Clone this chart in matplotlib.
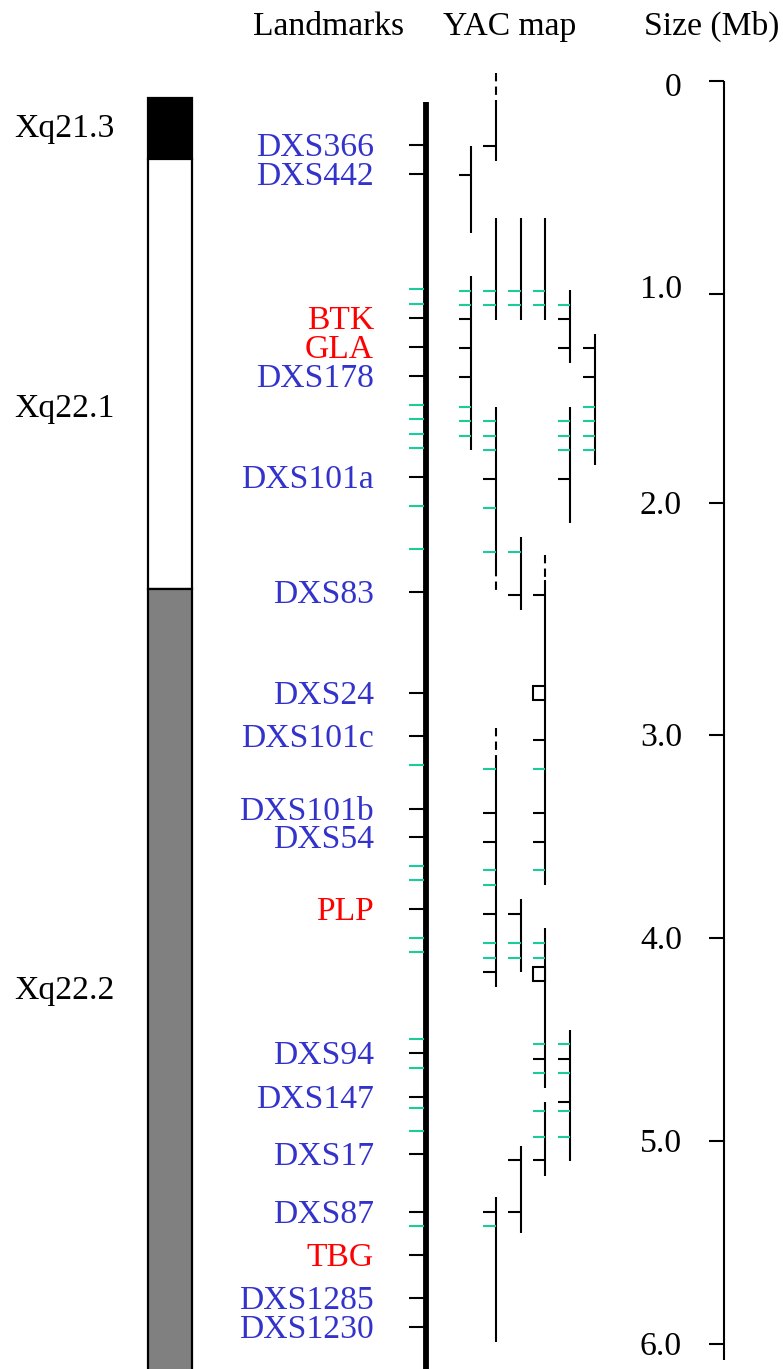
import matplotlib.pyplot as plt
from matplotlib.patches import Rectangle

# map positions (top of picture = 0, going down)
band_names = ["Xq21.3", "Xq22.1", "Xq22.2"]
band_stain = ["gpos100", "gneg", "gpos50"]
band_top = [98, 159, 589]
band_bottom = [159, 589, 1400]
band_label_pos = [126, 406, 988]

landmark_pos = [145, 174, 289, 304, 318, 347, 376, 405, 419, 434, 448, 477,
                506, 549, 592, 693, 736, 765, 809, 837, 866, 880, 909, 938,
                952, 1039, 1053, 1068, 1097, 1108, 1131, 1154, 1212, 1226,
                1255, 1298, 1327]
landmark_kind = ["k", "k", "g", "g", "k", "k", "k", "g", "g", "g", "g", "k",
                 "g", "g", "k", "k", "k", "g", "k", "k", "g", "g", "k", "g",
                 "g", "g", "k", "g", "k", "g", "g", "k", "k", "g",
                 "k", "k", "k"]
landmark_names = ["DXS366", "DXS442", "", "", "BTK", "GLA", "DXS178", "", "",
                  "", "", "DXS101a", "", "", "DXS83", "DXS24", "DXS101c", "",
                  "DXS101b", "DXS54", "", "", "PLP", "", "", "", "DXS94", "",
                  "DXS147", "", "", "DXS17", "DXS87", "", "TBG", "DXS1285",
                  "DXS1230"]
gene_names = ["BTK", "GLA", "PLP", "TBG"]

# YAC clones: column, top, bottom, dashed part (or None), ticks, boxes
yac_col = [2, 1, 2, 3, 4, 1, 5, 6, 2, 5, 3, 4, 2, 3, 4, 5, 4, 3, 2]
yac_top = [100, 146, 218, 218, 218, 276, 290, 334, 407, 407, 537, 580, 757,
           899, 928, 1030, 1102, 1146, 1197]
yac_bottom = [161, 233, 320, 320, 320, 450, 363, 465, 568, 523, 610, 885, 987,
              972, 1088, 1161, 1176, 1233, 1342]
yac_dashed = [(73, 100), None, None, None, None, None, None, None, (568, 595),
              None, None, (555, 580), (728, 757), None, None, None, None,
              None, None]
yac_ticks = [
    [(146, "k")],
    [(175, "k")],
    [(291, "g"), (305, "g")],
    [(291, "g"), (305, "g")],
    [(291, "g"), (305, "g")],
    [(291, "g"), (305, "g"), (319, "k"), (348, "k"), (377, "k"), (407, "g"),
     (421, "g"), (436, "g")],
    [(305, "g"), (319, "k"), (348, "k")],
    [(348, "k"), (377, "k"), (407, "g"), (421, "g"), (436, "g"), (450, "g")],
    [(421, "g"), (436, "g"), (450, "g"), (479, "k"), (508, "g"), (552, "g")],
    [(421, "g"), (436, "g"), (450, "g"), (479, "k")],
    [(552, "g"), (595, "k")],
    [(595, "k"), (740, "k"), (769, "g"), (813, "k"), (842, "k"), (870, "g")],
    [(769, "g"), (813, "k"), (842, "k"), (870, "g"), (885, "g"), (914, "k"),
     (943, "g"), (958, "g"), (972, "k")],
    [(914, "k"), (943, "g"), (958, "g")],
    [(943, "g"), (958, "g"), (1044, "g"), (1059, "k"), (1073, "g")],
    [(1044, "g"), (1059, "k"), (1073, "g"), (1102, "k"), (1111, "g"),
     (1137, "g")],
    [(1111, "g"), (1137, "g"), (1160, "k")],
    [(1160, "k"), (1212, "k")],
    [(1212, "k"), (1226, "g")],
]
yac_boxes = [[], [], [], [], [], [], [], [], [], [], [], [693], [], [], [974],
             [], [], [], []]

scale_mb = ["0", "1.0", "2.0", "3.0", "4.0", "5.0", "6.0"]
scale_pos = [81, 294, 503, 735, 938, 1141, 1344]
scale_label_pos = [85, 287, 503, 735, 938, 1141, 1344]

BLUE = "#3333cc"
RED = "#ff0000"
GREEN = "#1acc99"
STAIN = {"gpos100": "black", "gneg": "white", "gpos50": "#808080"}
FONT = "Liberation Serif"
FS = 24.2
HALF_CAP = 11.1

fig = plt.figure(figsize=(7.83, 13.69), dpi=100)
ax = fig.add_axes([0, 0, 1, 1])
ax.set_xlim(0, 783)
ax.set_ylim(1369, 0)
ax.axis("off")


def label(x, y, s, ha="left", color="black"):
    ax.text(x, y + HALF_CAP, s, ha=ha, va="baseline", color=color,
            fontsize=FS, family=FONT)


# headers
ax.text(329, 35, "Landmarks", ha="center", va="baseline", fontsize=FS, family=FONT)
ax.text(510, 35, "YAC map", ha="center", va="baseline", fontsize=FS, family=FONT)
ax.text(712, 35, "Size (Mb)", ha="center", va="baseline", fontsize=FS, family=FONT)

# ideogram
for name, stain, top, bot, lp in zip(band_names, band_stain, band_top,
                                      band_bottom, band_label_pos):
    ax.add_patch(Rectangle((148, top), 44, bot - top, facecolor=STAIN[stain],
                           edgecolor="black", lw=1.6, zorder=2))
    label(14, lp, name)

# landmark axis
ax.plot([425.5, 425.5], [102, 1369], color="black", lw=4.2, solid_capstyle="butt")
for pos, kind, name in zip(landmark_pos, landmark_kind, landmark_names):
    ax.plot([409, 424], [pos, pos], color="black" if kind == "k" else GREEN,
            lw=1.5, solid_capstyle="butt")
    if name:
        label(374, pos, name, ha="right",
              color=RED if name in gene_names else BLUE)

# YAC map
for col, top, bot, dash, ticks, boxes in zip(yac_col, yac_top, yac_bottom,
                                             yac_dashed, yac_ticks, yac_boxes):
    x = 471 + (col - 1) * 24.8
    ax.plot([x, x], [top, bot], color="black", lw=1.5, solid_capstyle="butt")
    if dash:
        ax.plot([x, x], dash, color="black", lw=1.5, ls=(0, (4, 2.5)))
    for pos, kind in ticks:
        ax.plot([x - 12.5, x], [pos, pos],
                color="black" if kind == "k" else GREEN, lw=1.5,
                solid_capstyle="butt")
    for pos in boxes:
        ax.add_patch(Rectangle((x - 12.5, pos - 7.3), 12.5, 14.6,
                               facecolor="white", edgecolor="black", lw=1.5,
                               zorder=3))

# size scale
ax.plot([724, 724], [scale_pos[0], 1360], color="black", lw=1.5,
        solid_capstyle="butt")
for pos in scale_pos:
    ax.plot([709, 724], [pos, pos], color="black", lw=1.5, solid_capstyle="butt")
for txt, pos in zip(scale_mb, scale_label_pos):
    label(682, pos, txt, ha="right")

fig.savefig("out.png", dpi=100)
